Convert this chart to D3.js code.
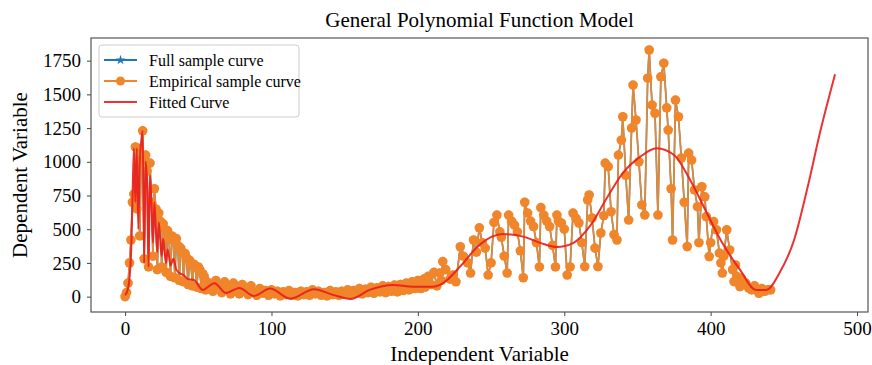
<!DOCTYPE html>
<html>
<head>
<meta charset="utf-8">
<script src="https://cdn.jsdelivr.net/npm/d3@7"></script>
<style>
  body { margin: 0; background: #fff; }
  text { font-family: "Liberation Serif", "Times New Roman", serif; fill: #000; }
</style>
</head>
<body>
<svg id="chart" width="872" height="365"></svg>
<script>
// empirical sample (same values drive the hidden full-sample curve)
const sampleX = [0,1,2,3,4,5,6,7,8,9,10,11,12,13,14,15,16,17,18,19,20,21,22,23,24,25,26,27,28,29,30,31,32,33,34,35,36,37,38,39,40,41,42,43,44,45,46,47,48,49,50,51,52,53,54,55,56,58,60,62,64,66,68,70,72,74,76,78,80,82,84,86,88,90,92,94,96,98,100,102,104,106,108,110,112,114,116,118,120,122,124,126,128,130,132,134,136,138,140,142,144,146,148,150,152,154,156,158,160,162,164,166,168,170,172,174,176,178,180,182,184,186,188,190,192,194,196,198,200,202,204,205,207,209,211,213,215,216,217,219,222,224,226,229,231,234,236,238,240,242,244,246,248,250,252,254,256,257,259,261,262,264,266,268,270,272,273,275,277,279,281,283,284,286,288,290,292,294,295,296,298,300,302,304,306,308,310,312,314,316,317,319,321,323,325,327,328,330,332,334,336,337,339,340,342,344,346,347,349,351,353,355,357,358,360,362,364,366,368,370,371,373,374,376,378,380,382,384,385,387,389,391,392,394,396,397,399,400,402,404,406,407,408,409,411,413,415,416,417,418,420,421,422,424,426,428,430,431,433,435,437,439,441,443,444];
const sampleY = [0,30,100,250,420,700,760,1110,650,1100,450,1000,1230,280,1050,930,220,990,700,300,800,650,200,620,560,220,540,500,180,490,430,150,450,420,140,430,380,120,360,330,110,320,290,90,270,240,80,240,220,70,220,200,60,170,150,50,110,90,40,120,80,30,110,60,20,100,50,20,90,40,15,80,30,10,60,25,45,10,50,20,40,5,35,15,45,10,30,5,40,15,35,10,50,20,40,10,30,5,45,15,35,10,40,20,50,15,45,25,60,20,55,30,70,25,65,35,80,30,75,40,85,35,90,45,100,50,110,60,120,60,130,70,150,90,180,80,175,120,260,200,130,160,110,370,300,250,175,420,330,510,400,360,160,250,550,605,480,440,300,175,605,560,530,480,340,140,700,620,560,520,400,220,660,605,560,520,380,220,605,560,546,500,160,220,620,580,546,400,222,717,754,583,360,222,472,600,990,964,630,460,420,1050,1160,1334,900,568,1250,1569,1310,1000,680,605,1620,1829,1420,1360,605,1630,1731,1400,1235,800,420,1458,1334,1028,700,371,1065,1013,791,667,400,815,740,593,297,400,556,495,323,250,175,300,495,346,200,111,235,148,74,136,111,100,64,50,80,50,25,60,40,50,50];

// fitted polynomial curve
const fitX = [0,2,4,5,6,7,8,9,10,11,12,13,14,15,16,17,18,19,20,21,22,23,24,25,26,27,28,29,30,31,33,35,37,40,43,47,53,61,69,78,88,99,113,129,142,154,167,183,197,210,215,220,229,242,258,272,284,295,306,318,329,340,352,363,375,386,397,408,420,431,438,447,457,466,475,485];
const fitY = [10,60,300,700,1100,700,1100,500,1000,1150,1230,250,1000,850,220,900,700,400,700,500,330,550,420,300,430,330,250,350,300,230,280,200,175,160,130,124,50,100,27,64,5,60,-15,55,13,-17,50,87,74,74,87,124,225,383,464,445,397,368,397,530,730,916,1038,1100,1050,865,630,397,200,50,50,175,420,800,1230,1650];

const xTicks = [0, 100, 200, 300, 400, 500];
const yTicks = [0, 250, 500, 750, 1000, 1250, 1500, 1750];
const legendLabels = ['Full sample curve', 'Empirical sample curve', 'Fitted Curve'];

const blue = '#1f77b4', orange = '#f0852a', red = '#ea1c1c';
const serif = '"Liberation Serif", "Times New Roman", serif';

const frame = { left: 91, right: 868, top: 38, bottom: 312 };

const svg = d3.select('#chart');

const x = d3.scaleLinear().domain([-23.3, 507.5]).range([frame.left, frame.right]);
const y = d3.scaleLinear().domain([-114, 1918]).range([frame.bottom, frame.top]);

const sample = sampleX.map((d, i) => ({ x: d, y: sampleY[i] }));
const fitted = fitX.map((d, i) => ({ x: d, y: fitY[i] }));

const plotGroup = svg.append('g');
plotGroup.append('clipPath').attr('id', 'clip')
    .append('rect')
    .attr('x', frame.left).attr('y', frame.top)
    .attr('width', frame.right - frame.left).attr('height', frame.bottom - frame.top);

const series = plotGroup.append('g').attr('clip-path', 'url(#clip)');

let line = d3.line().x(d => x(d.x)).y(d => y(d.y));

// full sample (blue stars) - sits under the empirical curve
series.append('path')
    .datum(sample)
    .attr('d', line)
    .attr('fill', 'none')
    .attr('stroke', blue)
    .attr('stroke-width', 1.5);
let star = d3.symbol().type(d3.symbolStar).size(30);
series.selectAll('.star')
    .data(sample)
    .enter()
    .append('path')
    .attr('transform', d => `translate(${x(d.x)},${y(d.y)})`)
    .attr('d', star)
    .attr('fill', blue);

// empirical sample (orange circles)
series.append('path')
    .datum(sample)
    .attr('d', line)
    .attr('fill', 'none')
    .attr('stroke', '#dc8a3c')
    .attr('stroke-width', 1.8);
series.selectAll('.dot')
    .data(sample)
    .enter()
    .append('circle')
    .attr('cx', d => x(d.x))
    .attr('cy', d => y(d.y))
    .attr('r', 4.8)
    .attr('fill', orange);

// fitted curve
series.append('path')
    .datum(fitted)
    .attr('d', d3.line().x(d => x(d.x)).y(d => y(d.y)).curve(d3.curveMonotoneX))
    .attr('fill', 'none')
    .attr('stroke', red)
    .attr('stroke-opacity', 0.9)
    .attr('stroke-width', 2);

// axes
let xAxis = d3.axisBottom(x).tickValues(xTicks).tickFormat(d3.format('d')).tickSize(4).tickPadding(6);
plotGroup.append('g')
    .attr('transform', `translate(0,${frame.bottom})`)
    .call(xAxis)
    .call(g => g.select('.domain').remove())
    .call(g => g.selectAll('line').attr('stroke', '#444'))
    .call(g => g.selectAll('text').style('font-family', serif).style('font-size', '19px'));

let yAxis = d3.axisLeft(y).tickValues(yTicks).tickFormat(d3.format('d')).tickSize(4).tickPadding(6);
plotGroup.append('g')
    .attr('transform', `translate(${frame.left},0)`)
    .call(yAxis)
    .call(g => g.select('.domain').remove())
    .call(g => g.selectAll('line').attr('stroke', '#444'))
    .call(g => g.selectAll('text').style('font-family', serif).style('font-size', '19px'));

plotGroup.append('rect')
    .attr('x', frame.left).attr('y', frame.top)
    .attr('width', frame.right - frame.left).attr('height', frame.bottom - frame.top)
    .attr('fill', 'none')
    .attr('stroke', '#555')
    .attr('stroke-width', 1.2);

// titles
svg.append('text')
    .attr('x', (frame.left + frame.right) / 2).attr('y', 27)
    .attr('text-anchor', 'middle')
    .style('font-size', '21px')
    .text('General Polynomial Function Model');

svg.append('text')
    .attr('x', (frame.left + frame.right) / 2).attr('y', 361)
    .attr('text-anchor', 'middle')
    .style('font-size', '21px')
    .text('Independent Variable');

svg.append('text')
    .attr('transform', `translate(27,${(frame.top + frame.bottom) / 2}) rotate(-90)`)
    .attr('text-anchor', 'middle')
    .style('font-size', '21px')
    .text('Dependent Variable');

// legend
let legend = svg.append('g').attr('transform', 'translate(99,45)');
legend.append('rect')
    .attr('width', 200).attr('height', 72)
    .attr('rx', 3)
    .attr('fill', '#fff').attr('fill-opacity', 0.8)
    .attr('stroke', '#ccc');

legendLabels.forEach((label, i) => {
    let row = legend.append('g').attr('transform', `translate(0,${15 + i * 21})`);
    let col = [blue, orange, red][i];
    row.append('line')
        .attr('x1', 5).attr('x2', 38)
        .attr('stroke', col).attr('stroke-width', 2)
        .attr('stroke-opacity', i === 2 ? 0.9 : 1);
    if (i === 0) row.append('path').attr('transform', 'translate(21.5,0)').attr('d', star).attr('fill', blue);
    if (i === 1) row.append('circle').attr('cx', 21.5).attr('r', 4.5).attr('fill', orange);
    row.append('text')
        .attr('x', 50).attr('y', 6)
        .style('font-size', '16px')
        .text(label);
});
</script>
</body>
</html>
